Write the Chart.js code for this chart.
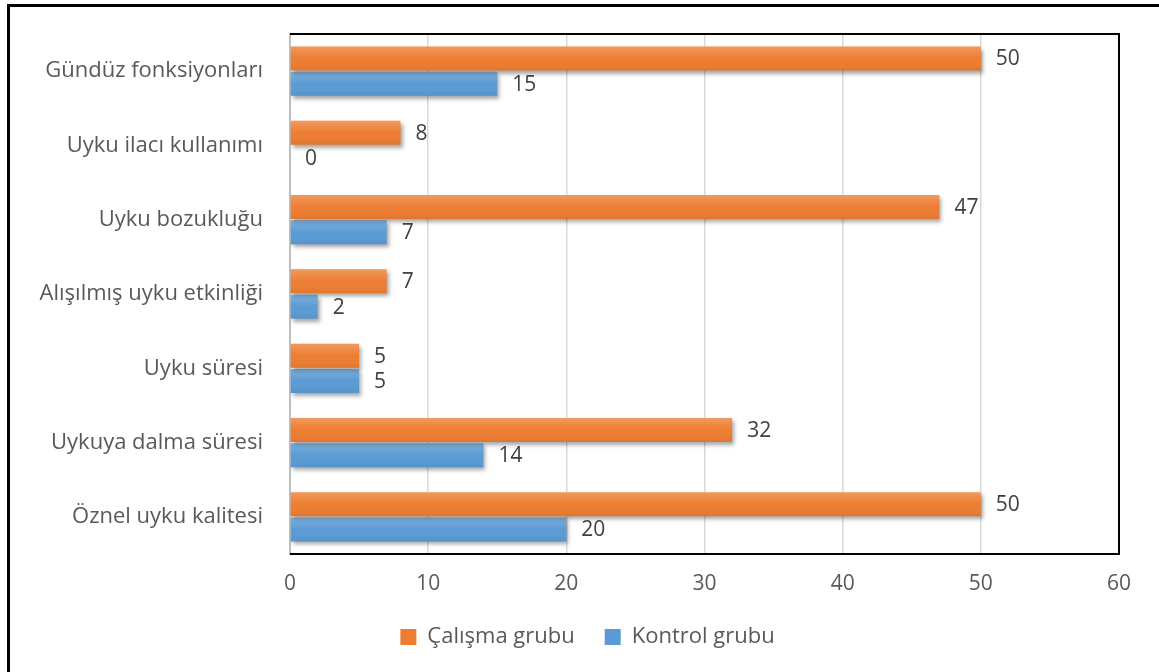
<!DOCTYPE html>
<html>
<head>
<meta charset="utf-8">
<script src="https://cdn.jsdelivr.net/npm/chart.js@4/dist/chart.umd.min.js"></script>
<style>
  html, body { margin: 0; padding: 0; background: #fff; }
  #wrap { position: relative; width: 1159px; height: 672px; overflow: hidden; }
  #frame { position: absolute; left: 7px; top: 4px; right: -10px; bottom: -10px; border-top: 3px solid #000; border-left: 3px solid #000; }
  canvas { position: absolute; left: 0; top: 0; }
</style>
</head>
<body>
<div id="wrap">
  <canvas id="chart" width="1159" height="672"></canvas>
  <div id="frame"></div>
</div>
<script>
// Categories top to bottom
const categories = [
    'Gündüz fonksiyonları',
    'Uyku ilacı kullanımı',
    'Uyku bozukluğu',
    'Alışılmış uyku etkinliği',
    'Uyku süresi',
    'Uykuya dalma süresi',
    'Öznel uyku kalitesi'
];
const calismaGrubu = [50, 8, 47, 7, 5, 32, 50];
const kontrolGrubu = [15, 0, 7, 2, 5, 14, 20];
const xTicks = [0, 10, 20, 30, 40, 50, 60];

const FONT = '"Open Sans", sans-serif';
const FSIZE = 22;
const textColor = '#595959';

// shadow under the bars, gradient overlay and value labels
const barShadow = {
    id: 'barShadow',
    beforeDatasetsDraw(chart) {
        const ctx = chart.ctx;
        ctx.save();
        ctx.shadowColor = 'rgba(0,0,0,0.35)';
        ctx.shadowBlur = 4;
        ctx.shadowOffsetX = 2;
        ctx.shadowOffsetY = 3;
    },
    afterDatasetsDraw(chart) {
        const ctx = chart.ctx;
        ctx.restore();
        chart.data.datasets.forEach((ds, i) => {
            chart.getDatasetMeta(i).data.forEach(bar => {
                const top = bar.y - bar.height / 2;
                const w = bar.x - bar.base;
                if (w <= 0) return;
                const g = ctx.createLinearGradient(0, top, 0, top + bar.height);
                g.addColorStop(0, 'rgba(255,255,255,0.22)');
                g.addColorStop(0.5, 'rgba(255,255,255,0)');
                g.addColorStop(1, 'rgba(0,0,0,0.06)');
                ctx.fillStyle = g;
                ctx.fillRect(bar.base, top, w, bar.height);
            });
        });
        ctx.save();
        ctx.font = (FSIZE - 1) + 'px ' + FONT;
        ctx.fillStyle = '#404040';
        ctx.textBaseline = 'middle';
        ctx.textAlign = 'left';
        chart.data.datasets.forEach((ds, i) => {
            chart.getDatasetMeta(i).data.forEach((bar, j) => {
                ctx.fillText(String(ds.data[j]), bar.x + 15, bar.y + 1);
            });
        });
        ctx.restore();
    }
};

// black frame around plot area
const plotFrame = {
    id: 'plotFrame',
    afterLayout(chart) {
        // legend sits a bit right of the canvas centre and a little higher
        chart.legend.left += 28;
        chart.legend.right += 28;
        chart.legend.top -= 12;
        chart.legend.bottom -= 12;
    },
    afterDraw(chart) {
        const a = chart.chartArea;
        const ctx = chart.ctx;
        ctx.save();
        ctx.strokeStyle = '#000';
        ctx.lineWidth = 2;
        ctx.beginPath();
        ctx.moveTo(a.left, a.top);
        ctx.lineTo(a.right, a.top);
        ctx.lineTo(a.right, a.bottom);
        ctx.lineTo(a.left, a.bottom);
        ctx.stroke();
        ctx.restore();
    }
};

const ctx = document.getElementById('chart').getContext('2d');
new Chart(ctx, {
    type: 'bar',
    data: {
        labels: categories,
        datasets: [{
            label: 'Çalışma grubu',
            data: calismaGrubu,
            backgroundColor: '#ED7D31',
            categoryPercentage: 0.68,
            barPercentage: 0.95
        }, {
            label: 'Kontrol grubu',
            data: kontrolGrubu,
            backgroundColor: '#5B9BD5',
            categoryPercentage: 0.68,
            barPercentage: 0.95
        }]
    },
    options: {
        indexAxis: 'y',
        responsive: false,
        animation: false,
        layout: { padding: { left: 0, right: 40, top: 34, bottom: 2 } },
        plugins: {
            tooltip: { enabled: false },
            legend: {
                position: 'bottom',
                labels: {
                    color: textColor,
                    font: { family: FONT, size: FSIZE },
                    boxWidth: 16,
                    boxHeight: 16,
                    padding: 30
                }
            }
        },
        scales: {
            x: {
                min: 0,
                max: 60,
                afterBuildTicks(scale) {
                    scale.ticks = xTicks.map(v => ({ value: v }));
                },
                afterFit(scale) { scale.height = 54; },
                grid: { color: '#d9d9d9', lineWidth: 1.5, drawTicks: false },
                border: { display: false },
                ticks: { color: textColor, font: { family: FONT, size: FSIZE - 1 }, padding: 17 }
            },
            y: {
                afterFit(scale) {
                    scale.width = 290;
                    scale.paddingTop = 0;
                    scale.paddingBottom = 0;
                },
                grid: { display: false, drawTicks: false },
                border: { display: true, color: '#bfbfbf', width: 2 },
                ticks: { color: textColor, font: { family: FONT, size: FSIZE }, padding: 27 }
            }
        }
    },
    plugins: [barShadow, plotFrame]
});
</script>
</body>
</html>
